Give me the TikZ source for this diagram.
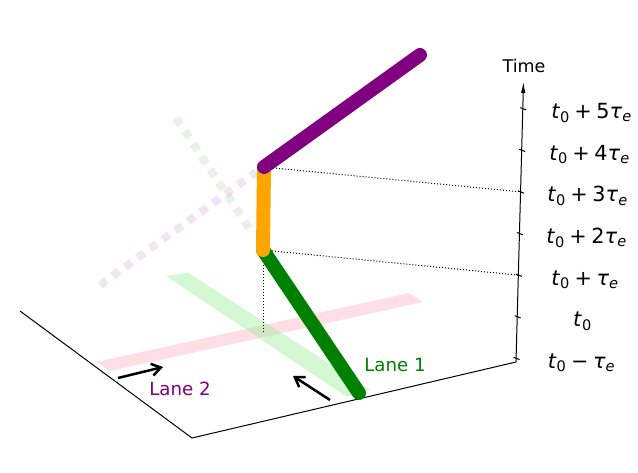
\documentclass[tikz,border=0pt]{standalone}
\usepackage{fontspec}
\setmainfont{DejaVu Sans}
\usetikzlibrary{arrows.meta}
\definecolor{mplgreen}{RGB}{0,128,0}
\definecolor{mplorange}{RGB}{255,165,0}
\definecolor{mplpurple}{RGB}{128,0,128}
\definecolor{mplpink}{RGB}{255,192,203}
\definecolor{mpllightgreen}{RGB}{144,238,144}
\newcommand{\tz}{\textit{t}\textsubscript{0}}
\newcommand{\te}{\textit{τ}\textsubscript{\textit{e}}}
\newcommand{\op}[1]{\hspace{0.22em}#1\hspace{0.22em}}

\begin{document}
\begin{tikzpicture}[x=1pt,y=-1pt,
    axisline/.style={line width=1pt},
    track/.style={line width=14pt,line cap=round},
    ghost/.style={line width=8pt,dash pattern=on 8pt off 7.5pt,opacity=0.1},
    guide/.style={line width=1pt,dash pattern=on 1pt off 2pt},
    lanearrow/.style={line width=2.5pt,-{Straight Barb[length=9pt,width=12pt]}},
    lanelabel/.style={anchor=base,font=\fontsize{18.2}{21}\selectfont},
    ticklabel/.style={anchor=base,font=\fontsize{20.8}{24}\selectfont}]
  \useasboundingbox (0,0) rectangle (638,472);

  % floor and time axis
  \coordinate (back) at (20,311);
  \coordinate (front) at (192,438);
  \coordinate (corner) at (516,362);
  \coordinate (top) at (523.5,82);
  \draw[axisline] (back) -- (front) -- (corner);
  \draw[axisline,-{Latex[length=11pt,width=4.5pt]}] (corner) -- (top);
  \node[anchor=base,font=\fontsize{17.5}{20}\selectfont] (time) at (524,72.7) {Time};

  % ticks
  \foreach \i in {0,...,6}{
    \pgfmathsetmacro\ty{358.3-41.6*\i}
    \pgfmathsetmacro\tx{516+(362-\ty)*0.0268}
    \coordinate (tk\i) at (\tx,\ty);
    \draw[axisline] ([shift={(-2.5,-1)}]tk\i) -- ([shift={(3.5,1.3)}]tk\i);
  }
  \node[ticklabel] (lb0) at (581.5,368.3) {\tz\op{−}\te};
  \node[ticklabel] (lb1) at (582.5,326.7) {\tz};
  \node[ticklabel] (lb2) at (585,285.1) {\tz\op{+}\te};
  \node[ticklabel] (lb3) at (586.5,243.5) {\tz\op{+}2\te};
  \node[ticklabel] (lb4) at (587.5,201.9) {\tz\op{+}3\te};
  \node[ticklabel] (lb5) at (589.5,160.3) {\tz\op{+}4\te};
  \node[ticklabel] (lb6) at (591.5,118.7) {\tz\op{+}5\te};

  % lanes on the floor
  \fill[mplpink,opacity=0.5] (96,362) -- (409,293) -- (423,302) -- (110,371) -- cycle;
  \fill[mpllightgreen,opacity=0.4] (166,276) -- (188,272.7) -- (370,390) -- (346.7,396.7) -- cycle;
  \draw[ghost,mplgreen] (176,118) -- (253,234);
  \draw[ghost,mplpurple] (100,285) -- (256,172);

  % trajectory
  \coordinate (start) at (359,393);
  \coordinate (enter) at (263,250);
  \coordinate (leave) at (264,167);
  \coordinate (finish) at (420,55);
  \coordinate (foot) at (263,332);
  \draw[guide] (enter) -- (tk2);
  \draw[guide] (leave) -- (tk4);
  \draw[guide] (enter) -- (foot);
  \draw[track,mplgreen] (start) -- (enter);
  \draw[track,mplorange] (enter) -- (leave);
  \draw[track,mplpurple] (leave) -- (finish);

  % directions
  \coordinate (l1tail) at (330,400);
  \coordinate (l1head) at (293,376);
  \coordinate (l2tail) at (118,378);
  \coordinate (l2head) at (163,367);
  \draw[lanearrow] (l1tail) -- (l1head);
  \draw[lanearrow] (l2tail) -- (l2head);
  \node[lanelabel,text=mplgreen] (lane1) at (395,371.7) {Lane 1};
  \node[lanelabel,text=mplpurple] (lane2) at (180,395) {Lane 2};
\end{tikzpicture}
\end{document}
